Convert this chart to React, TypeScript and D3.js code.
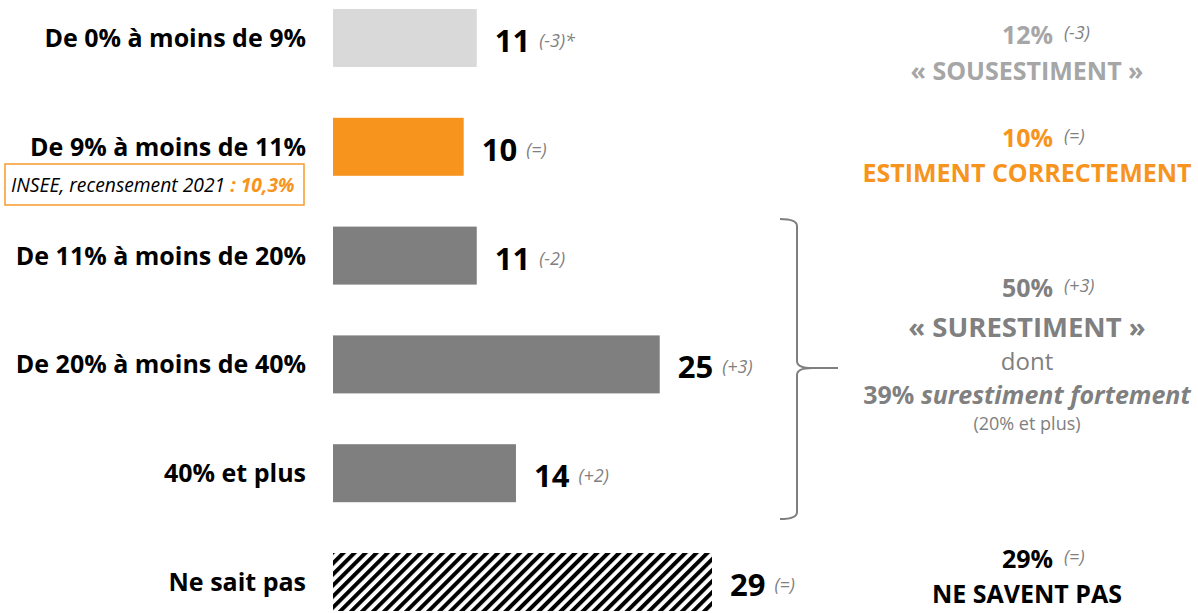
import { useEffect, useRef } from 'react';
import * as d3 from 'd3';

const categories = [
  'De 0% à moins de 9%',
  'De 9% à moins de 11%',
  'De 11% à moins de 20%',
  'De 20% à moins de 40%',
  '40% et plus',
  'Ne sait pas',
];
const values = [11, 10, 11, 25, 14, 29];
const changes = ['(-3)*', '(=)', '(-2)', '(+3)', '(+2)', '(=)'];
const barKinds = ['light', 'orange', 'dark', 'dark', 'dark', 'hatch'];

const summaryPercents = ['12%', '10%', '50%', '29%'];
const summaryChanges = ['(-3)', '(=)', '(+3)', '(=)'];
const summaryTitles = ['« SOUSESTIMENT »', 'ESTIMENT CORRECTEMENT', '« SURESTIMENT »', 'NE SAVENT PAS'];

const FONT = '"Open Sans", "Noto Sans", sans-serif';
const ORANGE = '#F7941D';
const GREY_TXT = '#A6A6A6';
const DARK_TXT = '#808080';

const App: React.FC = () => {
  const svgRef = useRef<SVGSVGElement>(null);
  const width = 1198;
  const height = 613;

  useEffect(() => {
    if (!svgRef.current) return;
    const svg = d3.select(svgRef.current);
    svg.selectAll('*').remove();

    const x = d3.scaleLinear().domain([0, 29]).range([333, 712]);
    const y = d3.scaleBand<string>()
      .domain(categories)
      .range([9, 611])
      .paddingInner(0.467)
      .paddingOuter(0);

    // hatch pattern
    const defs = svg.append('defs');
    const pat = defs.append('pattern')
      .attr('id', 'hatch')
      .attr('patternUnits', 'userSpaceOnUse')
      .attr('width', 7.8)
      .attr('height', 7.8)
      .attr('patternTransform', 'rotate(45)');
    pat.append('rect').attr('width', 7.8).attr('height', 7.8).attr('fill', 'white');
    pat.append('rect').attr('width', 4).attr('height', 7.8).attr('fill', 'black');

    const fillFor = (k: string) => {
      if (k === 'light') return '#D9D9D9';
      if (k === 'orange') return ORANGE;
      if (k === 'dark') return '#7F7F7F';
      return 'url(#hatch)';
    };

    const rows = categories.map((c, i) => ({ c, v: values[i], ch: changes[i], k: barKinds[i] }));

    // bars
    svg.selectAll('.bar')
      .data(rows)
      .enter().append('rect')
      .attr('class', 'bar')
      .attr('x', x(0))
      .attr('y', (d) => y(d.c) || 0)
      .attr('width', (d) => x(d.v) - x(0))
      .attr('height', y.bandwidth())
      .attr('fill', (d) => fillFor(d.k));

    // category labels
    svg.selectAll('.cat')
      .data(rows)
      .enter().append('text')
      .attr('class', 'cat')
      .attr('x', 306)
      .attr('y', (d) => (y(d.c) || 0) + y.bandwidth() / 2 + 9)
      .attr('text-anchor', 'end')
      .style('font-family', FONT)
      .style('font-weight', 'bold')
      .style('font-size', '25px')
      .style('fill', 'black')
      .text((d) => d.c);

    // value labels
    const vals = svg.selectAll('.val')
      .data(rows)
      .enter().append('text')
      .attr('class', 'val')
      .attr('x', (d) => x(d.v) + 18)
      .attr('y', (d) => (y(d.c) || 0) + y.bandwidth() / 2 + 14)
      .style('font-family', FONT);
    vals.append('tspan')
      .style('font-weight', 'bold')
      .style('font-size', '31px')
      .style('fill', 'black')
      .text((d) => d.v);
    vals.append('tspan')
      .attr('dx', 9)
      .attr('dy', -5)
      .style('font-style', 'italic')
      .style('font-size', '18px')
      .style('fill', DARK_TXT)
      .text((d) => d.ch);

    // INSEE box
    svg.append('rect')
      .attr('x', 5)
      .attr('y', 164)
      .attr('width', 299)
      .attr('height', 41)
      .attr('fill', 'white')
      .attr('stroke', ORANGE)
      .attr('stroke-width', 1.4);
    const insee = svg.append('text')
      .attr('x', 11)
      .attr('y', 192)
      .style('font-family', FONT)
      .style('font-style', 'italic')
      .style('font-size', '19.3px');
    insee.append('tspan').style('fill', 'black').text('INSEE, recensement 2021 ');
    insee.append('tspan').style('fill', ORANGE).style('font-weight', 'bold').text(': 10,3%');

    // brace
    svg.append('path')
      .attr('d', 'M780,219 Q797,219 797,226 L797,361 Q797,368 812,368 L838,368 M812,368 Q797,368 797,375 L797,512 Q797,519 780,519')
      .attr('fill', 'none')
      .attr('stroke', '#7F7F7F')
      .attr('stroke-width', 2);

    // summary blocks
    const cx = 1027;
    const pctY = [44, 147, 297, 568];
    const titleY = [80, 182, 337, 603];
    const pctColor = [GREY_TXT, ORANGE, DARK_TXT, 'black'];
    const titleColor = [GREY_TXT, ORANGE, DARK_TXT, 'black'];
    const titleSize = [25, 25, 27.5, 25];

    summaryPercents.forEach((p, i) => {
      svg.append('text')
        .attr('x', 1053)
        .attr('y', pctY[i])
        .attr('text-anchor', 'end')
        .style('font-family', FONT)
        .style('font-weight', 'bold')
        .style('font-size', '25px')
        .style('fill', pctColor[i])
        .text(p);
      svg.append('text')
        .attr('x', 1064)
        .attr('y', pctY[i] - 5)
        .style('font-family', FONT)
        .style('font-style', 'italic')
        .style('font-size', '18px')
        .style('fill', DARK_TXT)
        .text(summaryChanges[i]);
      svg.append('text')
        .attr('x', cx)
        .attr('y', titleY[i])
        .attr('text-anchor', 'middle')
        .style('font-family', FONT)
        .style('font-weight', 'bold')
        .style('font-size', `${titleSize[i]}px`)
        .style('fill', titleColor[i])
        .text(summaryTitles[i]);
    });

    svg.append('text')
      .attr('x', cx)
      .attr('y', 370)
      .attr('text-anchor', 'middle')
      .style('font-family', FONT)
      .style('font-size', '24px')
      .style('fill', DARK_TXT)
      .text('dont');
    const strong = svg.append('text')
      .attr('x', cx)
      .attr('y', 404)
      .attr('text-anchor', 'middle')
      .style('font-family', FONT)
      .style('font-weight', 'bold')
      .style('font-size', '25px')
      .style('fill', DARK_TXT);
    strong.append('tspan').text('39% ');
    strong.append('tspan').style('font-style', 'italic').text('surestiment fortement');
    svg.append('text')
      .attr('x', cx)
      .attr('y', 430)
      .attr('text-anchor', 'middle')
      .style('font-family', FONT)
      .style('font-size', '18px')
      .style('fill', DARK_TXT)
      .text('(20% et plus)');
  }, []);

  return (
    <svg
      ref={svgRef}
      width={width}
      height={height}
      style={{ position: 'absolute', left: 0, top: 0, display: 'block', background: 'white' }}
    />
  );
};

export default App;
